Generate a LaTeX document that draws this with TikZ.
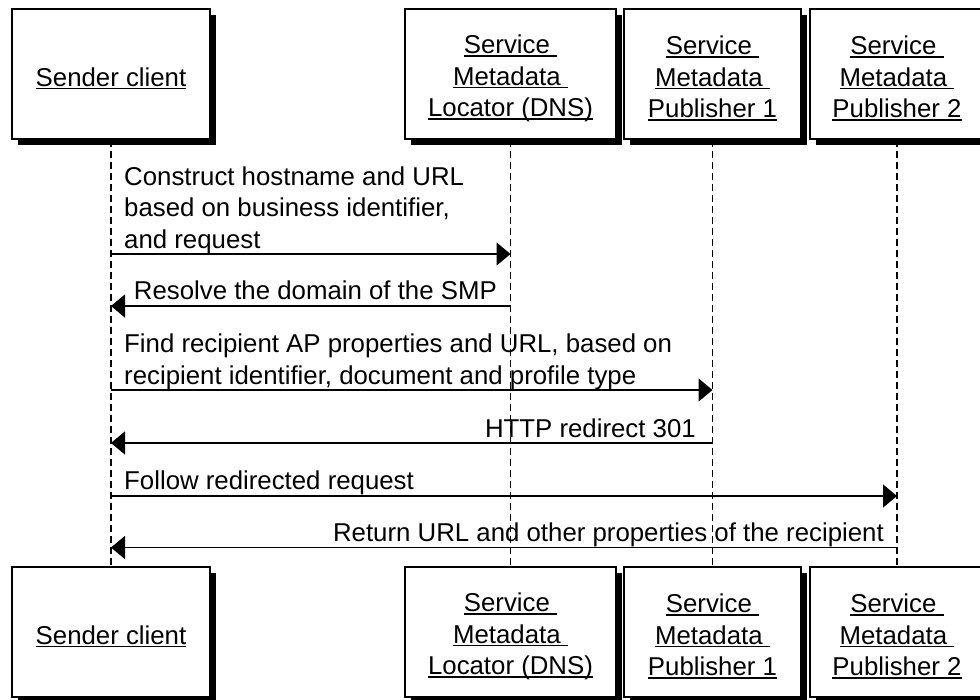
\documentclass[tikz,border=0pt]{standalone}
\usepackage{fontspec}
\setmainfont{Liberation Sans}
\usetikzlibrary{arrows.meta,shadows}
\newsavebox\ulbox
\newcommand\ulline[1]{\sbox\ulbox{#1}\rlap{\rule[-3pt]{\wd\ulbox}{1.3pt}}\usebox\ulbox}
\newcommand\topstrut{\rule{0pt}{27.5pt}}
\begin{document}
\begin{tikzpicture}[x=1pt,y=-1pt,
  every node/.style={font=\fontsize{25.8}{31.5}\selectfont, inner sep=0pt},
  actor/.style={draw, line width=1.5pt, fill=white, minimum height=130pt, align=center,
    drop shadow={shadow xshift=6pt, shadow yshift=-6pt, opacity=1, fill=black}},
  life/.style={line width=1.5pt, dash pattern=on 7pt off 4pt},
  msg/.style={line width=1.5pt, -{Triangle[length=14pt,width=23pt]}},
  lbl/.style={anchor=base west},
  rlbl/.style={anchor=base east}]
\useasboundingbox (0,0) rectangle (980,699);
% top actors
\node[actor, minimum width=198pt] (snd) at (111,74) {\topstrut\ulline{Sender client}};
\node[actor, minimum width=211pt] (sml) at (510.5,74) {\topstrut\ulline{Service\ }\\\ulline{Metadata\ }\\\ulline{Locator (DNS)}};
\node[actor, minimum width=177pt] (smpa) at (712.5,74) {\topstrut\ulline{Service\ }\\\ulline{Metadata\ }\\\ulline{Publisher 1}};
\node[actor, minimum width=174pt] (smpb) at (897,74) {\topstrut\ulline{Service\ }\\\ulline{Metadata\ }\\\ulline{Publisher 2}};
% bottom actors
\node[actor, minimum width=198pt] (sndB) at (111,632) {\topstrut\ulline{Sender client}};
\node[actor, minimum width=211pt] (smlB) at (510.5,632) {\topstrut\ulline{Service\ }\\\ulline{Metadata\ }\\\ulline{Locator (DNS)}};
\node[actor, minimum width=177pt] (smpaB) at (712.5,632) {\topstrut\ulline{Service\ }\\\ulline{Metadata\ }\\\ulline{Publisher 1}};
\node[actor, minimum width=174pt] (smpbB) at (897,632) {\topstrut\ulline{Service\ }\\\ulline{Metadata\ }\\\ulline{Publisher 2}};
% lifelines
\draw[life] (snd.south) -- (sndB.north);
\draw[life] (sml.south) -- (smlB.north);
\draw[life] (smpa.south) -- (smpaB.north);
\draw[life] (smpb.south) -- (smpbB.north);
% messages
\node[lbl] (m1) at (124,248) {\vbox{\hbox{Construct hostname and URL}\hbox{based on business identifier,}\hbox{and request}}};
\draw[msg] (snd.south |- 0,254) -- (sml.south |- 0,254);
\node[rlbl] (m2) at (497,299.5) {Resolve the domain of the SMP};
\draw[msg] (sml.south |- 0,306) -- (snd.south |- 0,306);
\node[lbl] (m3) at (124,384) {\vbox{\hbox{Find recipient AP properties and URL, based on}\hbox{recipient identifier, document and profile type}}};
\draw[msg] (snd.south |- 0,390) -- (smpa.south |- 0,390);
\node[rlbl] (m4) at (696,437) {HTTP redirect 301};
\draw[msg] (smpa.south |- 0,443) -- (snd.south |- 0,443);
\node[lbl] (m5) at (124,489.5) {Follow redirected request};
\draw[msg] (snd.south |- 0,496) -- (smpb.south |- 0,496);
\node[rlbl] (m6) at (884,541) {Return URL and other properties of the recipient};
\draw[msg] (smpb.south |- 0,547.5) -- (snd.south |- 0,547.5);
\end{tikzpicture}
\end{document}
